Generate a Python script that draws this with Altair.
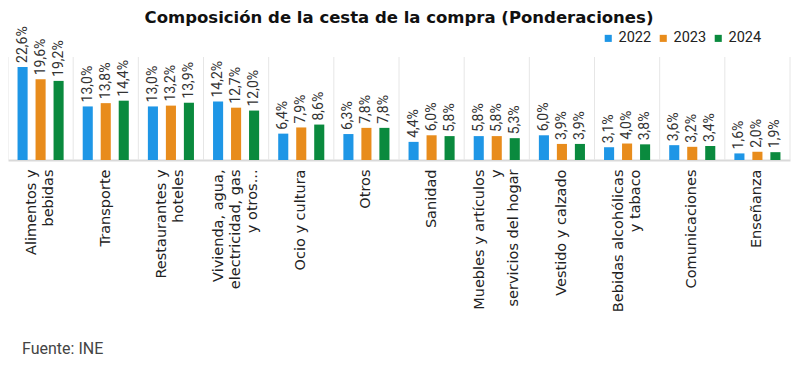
import altair as alt
import pandas as pd

categorias = [
    "Alimentos y|bebidas",
    "Transporte",
    "Restaurantes y|hoteles",
    "Vivienda, agua,|electricidad, gas|y otros...",
    "Ocio y cultura",
    "Otros",
    "Sanidad",
    "Muebles y artículos|y|servicios del hogar",
    "Vestido y calzado",
    "Bebidas alcohólicas|y tabaco",
    "Comunicaciones",
    "Enseñanza",
]
anios = ["2022", "2023", "2024"]
v2022 = [22.6, 13.0, 13.0, 14.2, 6.4, 6.3, 4.4, 5.8, 6.0, 3.1, 3.6, 1.6]
v2023 = [19.6, 13.8, 13.2, 12.7, 7.9, 7.8, 6.0, 5.8, 3.9, 4.0, 3.2, 2.0]
v2024 = [19.2, 14.4, 13.9, 12.0, 8.6, 7.8, 5.8, 5.3, 3.9, 3.8, 3.4, 1.9]
colores = ["#1e96e6", "#e88c1c", "#0a8a3e"]


def centrar(cat):
    # pad shorter lines with no-break spaces so lines look centred once right-aligned
    lineas = cat.split("|")
    mx = max(len(l) for l in lineas)
    return "|".join(l + "\u00a0" * round((mx - len(l)) * 0.95) for l in lineas)


etiquetas = [centrar(c) for c in categorias]

filas = []
for i, c in enumerate(etiquetas):
    for a, serie in zip(anios, [v2022, v2023, v2024]):
        filas.append({"cat": c, "anio": a, "valor": serie[i]})
df = pd.DataFrame(filas)
df_cat = pd.DataFrame({"cat": etiquetas})

W, H = 782, 103
LH = 17

xscale = alt.Scale(domain=etiquetas, paddingInner=0, paddingOuter=0)

base = alt.Chart(df).encode(
    x=alt.X(
        "cat:N",
        sort=etiquetas,
        title=None,
        scale=xscale,
        axis=alt.Axis(
            labelAngle=270,
            labelExpr="split(datum.label, '|')",
            labelFont="DejaVu Sans",
            labelFontSize=14.5,
            labelColor="#222222",
            labelLineHeight=LH,
            labelPadding=9,
            labelOffset={
                "condition": [
                    {"test": "length(split(datum.value, '|')) == 2", "value": -LH / 2},
                    {"test": "length(split(datum.value, '|')) == 3", "value": -LH},
                ],
                "value": 0,
            },
            ticks=False,
            grid=False,
            domainColor="#d9d9d9",
            domainWidth=2,
            labelOverlap=False,
            labelLimit=400,
        ),
    ),
    xOffset=alt.XOffset(
        "anio:N", scale=alt.Scale(paddingInner=0.44, paddingOuter=0.53)
    ),
    y=alt.Y("valor:Q", scale=alt.Scale(domain=[0, 25]), axis=None),
)

separadores = alt.Chart(df_cat).mark_rule(color="#e6e6e6", strokeWidth=1).encode(
    x=alt.X("cat:N", sort=etiquetas, scale=xscale, bandPosition=0),
    y=alt.value(0),
    y2=alt.value(H),
)
ultimo = alt.Chart(df_cat.tail(1)).mark_rule(color="#e6e6e6", strokeWidth=1).encode(
    x=alt.X("cat:N", sort=etiquetas, scale=xscale, bandPosition=1),
    y=alt.value(0),
    y2=alt.value(H),
)

barras = base.mark_bar().encode(
    color=alt.Color(
        "anio:N",
        scale=alt.Scale(domain=anios, range=colores),
        legend=alt.Legend(
            title=None,
            orient="none",
            direction="horizontal",
            legendX=593,
            legendY=-26,
            symbolType="square",
            symbolSize=50,
            symbolStrokeWidth=0,
            labelFont="Roboto",
            labelFontSize=14.5,
            labelColor="#222222",
            columnPadding=4,
            labelOffset=3,
            padding=0,
        ),
    )
)

textos = base.mark_text(
    angle=270, align="left", baseline="middle", dx=4,
    font="Roboto", fontSize=14, color="#333333"
).encode(
    text=alt.Text("lbl:N")
).transform_calculate(
    lbl="replace(format(datum.valor, '.1f'), '.', ',') + '%'"
)

pie = alt.Chart(pd.DataFrame({"t": ["Fuente: INE"]})).mark_text(
    align="left", baseline="middle", font="Roboto", fontSize=16, color="#444444"
).encode(text="t:N", x=alt.value(14), y=alt.value(292))

chart = alt.layer(separadores, ultimo, barras, textos, pie).properties(
    width=W,
    height=H,
    autosize=alt.AutoSizeParams(type="none"),
    padding={"left": 0, "top": 49, "right": 3, "bottom": 200},
    title=alt.TitleParams(
        "Composición de la cesta de la compra (Ponderaciones)",
        font="DejaVu Sans",
        fontSize=16.5,
        fontWeight="bold",
        color="#111111",
        anchor="middle",
        offset=0,
    ),
).configure_view(stroke=None)

chart.save("out.html", embed_options={"renderer": "svg", "actions": False})
